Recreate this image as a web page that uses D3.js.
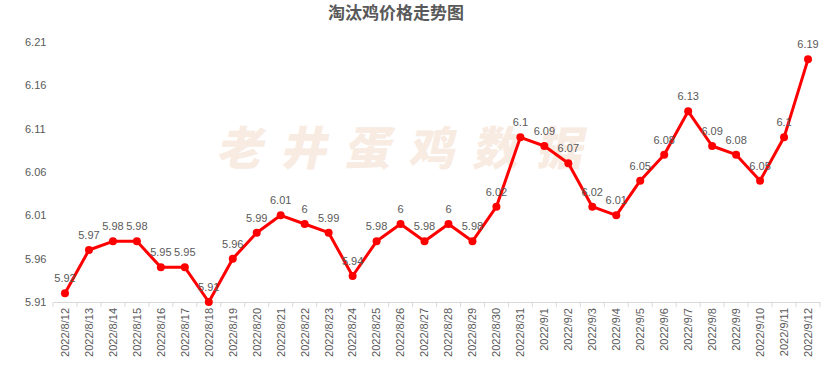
<!DOCTYPE html>
<html><head><meta charset="utf-8">
<script src="https://cdn.jsdelivr.net/npm/d3@7"></script>
<style>body{margin:0;background:#fff;}svg{display:block;font-family:"Liberation Sans","Noto Sans CJK SC",sans-serif;}</style>
</head><body>
<script>
const title = "淘汰鸡价格走势图";
const watermark = "老井蛋鸡数据";
const dates = ["2022/8/12","2022/8/13","2022/8/14","2022/8/15","2022/8/16","2022/8/17","2022/8/18","2022/8/19","2022/8/20","2022/8/21","2022/8/22","2022/8/23","2022/8/24","2022/8/25","2022/8/26","2022/8/27","2022/8/28","2022/8/29","2022/8/30","2022/8/31","2022/9/1","2022/9/2","2022/9/3","2022/9/4","2022/9/5","2022/9/6","2022/9/7","2022/9/8","2022/9/9","2022/9/10","2022/9/11","2022/9/12"];
const prices = [5.92,5.97,5.98,5.98,5.95,5.95,5.91,5.96,5.99,6.01,6,5.99,5.94,5.98,6,5.98,6,5.98,6.02,6.1,6.09,6.07,6.02,6.01,6.05,6.08,6.13,6.09,6.08,6.05,6.1,6.19];
const yTicks = [5.91,5.96,6.01,6.06,6.11,6.16,6.21];

const W = 821, H = 366;
const m = {left:53, right:1, top:42, bottom:64};
const svg = d3.select("body").append("svg").attr("width", W).attr("height", H);

const x = d3.scaleBand().domain(dates).range([m.left, W - m.right]);
const y = d3.scaleLinear().domain([5.91, 6.21]).range([H - m.bottom, m.top]);

// title
svg.append("text").attr("x", 396).attr("y", 19).attr("text-anchor", "middle")
  .attr("font-size", 17).attr("font-weight", "bold").attr("fill", "#595959")
  .attr("font-family", "'Noto Sans CJK SC',sans-serif").text(title);

// watermark
svg.append("text").attr("x", 398).attr("y", 165).attr("text-anchor", "middle")
  .attr("font-size", 46).attr("font-weight", 900).attr("fill", "#f8ebe2")
  .attr("letter-spacing", 18).attr("font-family", "'Noto Sans CJK SC',sans-serif")
  .attr("transform", "skewX(-12) translate(45,0)")
  .text(watermark);

// y axis labels
const yAxis = d3.axisLeft(y).tickValues(yTicks).tickFormat(d3.format(".2f")).tickSize(0).tickPadding(8);
const gy = svg.append("g").attr("transform", `translate(${m.left},0)`).call(yAxis);
gy.select(".domain").remove();
gy.selectAll("text").attr("font-size", 11).attr("fill", "#595959").attr("text-anchor", "start").attr("x", -28);

// x axis
const xAxis = d3.axisBottom(x).tickSize(0).tickPadding(6);
const gx = svg.append("g").attr("transform", `translate(0,${H - m.bottom})`).call(xAxis);
gx.select(".domain").attr("stroke", "#d9d9d9");
gx.selectAll("text").attr("font-size", 11).attr("fill", "#595959")
  .attr("transform", "rotate(-90)").attr("text-anchor", "end")
  .attr("x", -6).attr("y", 0).attr("dy", "0.35em");
gx.selectAll(".bound").data(dates.concat(["end"])).enter().append("line")
  .attr("x1", (d,i) => m.left + i * x.step()).attr("x2", (d,i) => m.left + i * x.step())
  .attr("y1", 0).attr("y2", 5).attr("stroke", "#d9d9d9");

const cx = d => x(d) + x.bandwidth() / 2;
const line = d3.line().x((d,i) => cx(dates[i])).y(d => y(d));
svg.append("path").datum(prices).attr("d", line).attr("fill", "none")
  .attr("stroke", "#ff0000").attr("stroke-width", 3).attr("stroke-linejoin", "round");
svg.selectAll(".pt").data(prices).enter().append("circle")
  .attr("cx", (d,i) => cx(dates[i])).attr("cy", d => y(d)).attr("r", 4).attr("fill", "#ff0000");

svg.selectAll(".lbl").data(prices).enter().append("text")
  .attr("x", (d,i) => cx(dates[i])).attr("y", d => y(d) - 11)
  .attr("text-anchor", "middle").attr("font-size", 11).attr("fill", "#595959")
  .text(d => d3.format("")(d));
</script>
</body></html>
